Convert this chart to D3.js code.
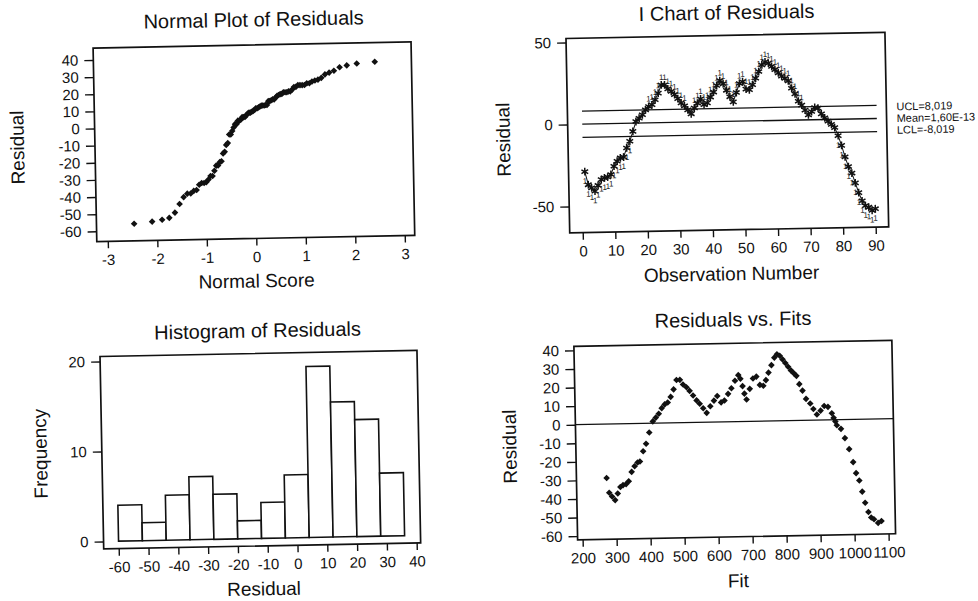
<!DOCTYPE html>
<html>
<head>
<meta charset="utf-8">
<script src="https://cdn.jsdelivr.net/npm/d3@7"></script>
<style>
  body { margin: 0; background: #fff; }
  svg { display: block; font-family: "Liberation Sans", Arial, sans-serif; }
  text { fill: #111; }
</style>
</head>
<body>
<div id="chart"></div>
<script>
//////////////////////////// data /////////////////////////////////////////

// residual by observation number (checked against the histogram)
const residuals = [
  -29, -37, -39, -41, -37.5, -34, -33, -32.5, -31, -26,
  -23, -21, -20.5, -15, -11, -5, 1, 3, 5, 8,
  10, 11, 14, 18, 23, 23, 20.5, 19, 17, 14.5,
  11.8, 10, 7.5, 5, 8.5, 11.5, 14, 10.5, 11.5, 15,
  18, 22, 25, 23, 19, 15, 11.8, 17.5, 23, 24,
  19.5, 19, 22, 26, 30, 34, 35.8, 35, 33, 31,
  29, 27, 25.5, 24, 19.5, 16, 11.5, 9, 6, 3,
  5, 7.5, 7, 3.5, 1, -1, -3, -5, -10, -16,
  -23, -29, -33, -39, -45, -50, -53, -54, -56, -55
];

const fits = [
  274, 281, 289, 298, 306, 314, 322, 331, 339, 348,
  357, 366, 373, 383, 392, 402, 413, 422, 431, 440,
  449, 458, 467, 476, 485, 495, 504, 514, 523, 533,
  543, 552, 562, 572, 583, 594, 604, 615, 625, 636,
  646, 657, 667, 673, 679, 684, 690, 700, 710, 720,
  730, 740, 748, 756, 765, 774, 782, 790, 798, 806,
  814, 822, 830, 838, 846, 855, 865, 877, 886, 896,
  907, 918, 929, 940, 945, 950, 954, 966, 977, 989,
  1000, 1008, 1017, 1025, 1033, 1042, 1050, 1058, 1070, 1080
];

// histogram bins (left edges, width 8) and counts
const histEdges = [-60, -52, -44, -36, -28, -20, -12, -4, 4, 12, 20, 28, 36];
const histCounts = [4, 2, 5, 7, 5, 2, 4, 7, 19, 15, 13, 7];

// control limits of the I chart
const limitValues = [8.019, 1.6e-13, -8.019];
const limitLabels = ["UCL=8,019", "Mean=1,60E-13", "LCL=-8,019"];

// tick labels
const normalTicks = [-3, -2, -1, 0, 1, 2, 3];
const residTicks = [40, 30, 20, 10, 0, -10, -20, -30, -40, -50, -60];
const obsTicks = [0, 10, 20, 30, 40, 50, 60, 70, 80, 90];
const iChartTicks = [50, 0, -50];
const histXTicks = [-60, -50, -40, -30, -20, -10, 0, 10, 20, 30, 40];
const histYTicks = [0, 10, 20];
const fitTicks = [200, 300, 400, 500, 600, 700, 800, 900, 1000, 1100];

//////////////////////////// helpers //////////////////////////////////////

// inverse standard normal (Acklam) - used for the Blom normal scores
const qnorm = (p) => {
  const a = [-39.69683028665376, 220.9460984245205, -275.9285104469687, 138.357751867269, -30.66479806614716, 2.506628277459239];
  const b = [-54.47609879822406, 161.5858368580409, -155.6989798598866, 66.80131188771972, -13.28068155288572];
  const c = [-0.007784894002430293, -0.3223964580411365, -2.400758277161838, -2.549732539343734, 4.374664141464968, 2.938163982698783];
  const d = [0.007784695709041462, 0.3224671290700398, 2.445134137142996, 3.754408661907416];
  const plow = 0.02425;
  let q, r;
  if (p < plow) {
    q = Math.sqrt(-2 * Math.log(p));
    return (((((c[0] * q + c[1]) * q + c[2]) * q + c[3]) * q + c[4]) * q + c[5]) /
      ((((d[0] * q + d[1]) * q + d[2]) * q + d[3]) * q + 1);
  }
  if (p > 1 - plow) {
    q = Math.sqrt(-2 * Math.log(1 - p));
    return -(((((c[0] * q + c[1]) * q + c[2]) * q + c[3]) * q + c[4]) * q + c[5]) /
      ((((d[0] * q + d[1]) * q + d[2]) * q + d[3]) * q + 1);
  }
  q = p - 0.5;
  r = q * q;
  return (((((a[0] * r + a[1]) * r + a[2]) * r + a[3]) * r + a[4]) * r + a[5]) * q /
    (((((b[0] * r + b[1]) * r + b[2]) * r + b[3]) * r + b[4]) * r + 1);
};

const ink = "#111";

//////////////////////////// svg //////////////////////////////////////////

const svg = d3.select("#chart").append("svg").attr("width", 978).attr("height", 601);
svg.append("rect").attr("width", 978).attr("height", 601).attr("fill", "#fff");

// the scan is slightly tilted
const root = svg.append("g").attr("transform", "rotate(-1.1 489 300)");

const drawPanel = (cfg) => {
  const g = root.append("g");
  const [x0, y0, x1, y1] = cfg.frame;

  const xAxis = g.append("g")
    .attr("transform", `translate(0,${y1})`)
    .call(d3.axisBottom(cfg.x).tickValues(cfg.xTicks).tickSize(7).tickPadding(6)
      .tickSizeOuter(0).tickFormat((d) => String(d)));

  const yAxis = g.append("g")
    .attr("transform", `translate(${x0},0)`)
    .call(d3.axisLeft(cfg.y).tickValues(cfg.yTicks).tickSize(9).tickPadding(6)
      .tickSizeOuter(0).tickFormat((d) => String(d)));

  [xAxis, yAxis].forEach((a) => {
    a.attr("font-family", null).attr("font-size", 15);
    a.select(".domain").remove();
    a.selectAll("line").attr("stroke", ink).attr("stroke-width", 1.4);
  });

  g.append("rect")
    .attr("x", x0).attr("y", y0)
    .attr("width", x1 - x0).attr("height", y1 - y0)
    .attr("fill", "none").attr("stroke", ink).attr("stroke-width", 1.7);

  g.append("text")
    .attr("x", cfg.titleX).attr("y", cfg.titleY)
    .attr("text-anchor", "middle").attr("font-size", 20)
    .text(cfg.title);

  g.append("text")
    .attr("x", cfg.xLabelX).attr("y", cfg.xLabelY)
    .attr("text-anchor", "middle").attr("font-size", 19)
    .text(cfg.xLabel);

  g.append("text")
    .attr("transform", `translate(${cfg.yLabelX},${cfg.yLabelY}) rotate(-90)`)
    .attr("text-anchor", "middle").attr("font-size", 19)
    .text(cfg.yLabel);

  return g;
};

const diamond = d3.symbol(d3.symbolSquare, 22);

//////////////////////////// normal plot //////////////////////////////////

const p1 = {
  frame: [98, 40.5, 416, 234],
  x: d3.scaleLinear().domain([-3, 3]).range([109, 406]),
  y: d3.scaleLinear().domain([-60, 40]).range([223.8, 52.4]),
  xTicks: normalTicks, yTicks: residTicks,
  title: "Normal Plot of Residuals", titleX: 259, titleY: 22,
  xLabel: "Normal Score", xLabelX: 257, xLabelY: 283,
  yLabel: "Residual", yLabelX: 27, yLabelY: 138.5
};
const g1 = drawPanel(p1);

const sorted = residuals.slice().sort(d3.ascending);
const nObs = sorted.length;
const normalPoints = sorted.map((r, i) => ({ score: qnorm((i + 1 - 0.375) / (nObs + 0.25)), r }));

g1.selectAll(".np")
  .data(normalPoints)
  .join("path")
  .attr("class", "np")
  .attr("d", diamond)
  .attr("transform", (d) => `translate(${p1.x(d.score)},${p1.y(d.r)}) rotate(45)`)
  .attr("fill", ink);

//////////////////////////// I chart //////////////////////////////////////

const p2 = {
  frame: [571, 40, 890, 234.5],
  x: d3.scaleLinear().domain([0, 90]).range([584, 877]),
  y: d3.scaleLinear().domain([-50, 50]).range([208, 44]),
  xTicks: obsTicks, yTicks: iChartTicks,
  title: "I Chart of Residuals", titleX: 732, titleY: 24,
  xLabel: "Observation Number", xLabelX: 732, xLabelY: 285,
  yLabel: "Residual", yLabelX: 513, yLabelY: 140
};
const g2 = drawPanel(p2);

g2.selectAll(".limit")
  .data(limitValues)
  .join("line")
  .attr("class", "limit")
  .attr("x1", p2.x(0.5)).attr("x2", p2.x(91))
  .attr("y1", (d) => p2.y(d)).attr("y2", (d) => p2.y(d))
  .attr("stroke", ink).attr("stroke-width", 1.3);

g2.selectAll(".limitLabel")
  .data(limitLabels)
  .join("text")
  .attr("class", "limitLabel")
  .attr("x", 900)
  .attr("y", (d, i) => p2.y(limitValues[i]) + [1.5, 0, -1.5][i])
  .attr("dy", "0.35em")
  .attr("font-size", 11)
  .text((d) => d);

const obsPoints = residuals.map((r, i) => ({ obs: i + 1, r }));

g2.append("path")
  .datum(obsPoints)
  .attr("d", d3.line().x((d) => p2.x(d.obs)).y((d) => p2.y(d.r)))
  .attr("fill", "none").attr("stroke", ink).attr("stroke-width", 1);

g2.selectAll(".star")
  .data(obsPoints)
  .join("path")
  .attr("class", "star")
  .attr("d", d3.symbol(d3.symbolAsterisk, 42))
  .attr("transform", (d) => `translate(${p2.x(d.obs)},${p2.y(d.r)})`)
  .attr("fill", "none").attr("stroke", ink).attr("stroke-width", 1.5);

// test 1 flags on points beyond the limits
g2.selectAll(".flag")
  .data(obsPoints.filter((d) => d.r > limitValues[0] || d.r < limitValues[2]))
  .join("text")
  .attr("class", "flag")
  .attr("x", (d) => p2.x(d.obs))
  .attr("y", (d) => p2.y(d.r) + (d.r > 0 ? -5 : 12))
  .attr("text-anchor", "middle")
  .attr("font-size", 8)
  .style("fill", "#222")
  .text("1");

//////////////////////////// histogram ////////////////////////////////////

const p3 = {
  frame: [99, 349, 416, 541.5],
  x: d3.scaleLinear().domain([-60, 40]).range([114, 412]),
  y: d3.scaleLinear().domain([0, 20]).range([534, 354]),
  xTicks: histXTicks, yTicks: histYTicks,
  title: "Histogram of Residuals", titleX: 257, titleY: 333,
  xLabel: "Residual", xLabelX: 258.5, xLabelY: 591,
  yLabel: "Frequency", yLabelX: 44, yLabelY: 445
};
const g3 = drawPanel(p3);

g3.selectAll(".bar")
  .data(histCounts)
  .join("rect")
  .attr("class", "bar")
  .attr("x", (d, i) => p3.x(histEdges[i]))
  .attr("width", (d, i) => p3.x(histEdges[i + 1]) - p3.x(histEdges[i]))
  .attr("y", (d) => p3.y(d))
  .attr("height", (d) => p3.y(0) - p3.y(d))
  .attr("fill", "#fff").attr("stroke", ink).attr("stroke-width", 1.6);

//////////////////////////// residuals vs fits ////////////////////////////

const p4 = {
  frame: [573, 348, 891, 541.5],
  x: d3.scaleLinear().domain([200, 1100]).range([578, 884]),
  y: d3.scaleLinear().domain([-60, 40]).range([537.8, 352]),
  xTicks: fitTicks, yTicks: residTicks,
  title: "Residuals vs. Fits", titleX: 732.5, titleY: 331,
  xLabel: "Fit", xLabelX: 733, xLabelY: 592,
  yLabel: "Residual", yLabelX: 513.5, yLabelY: 447
};
const g4 = drawPanel(p4);

g4.append("line")
  .attr("x1", p4.frame[0]).attr("x2", p4.frame[2])
  .attr("y1", p4.y(0)).attr("y2", p4.y(0))
  .attr("stroke", ink).attr("stroke-width", 1.3);

g4.selectAll(".fp")
  .data(residuals.map((r, i) => ({ fit: fits[i], r })))
  .join("path")
  .attr("class", "fp")
  .attr("d", diamond)
  .attr("transform", (d) => `translate(${p4.x(d.fit)},${p4.y(d.r)}) rotate(45)`)
  .attr("fill", ink);
</script>
</body>
</html>
